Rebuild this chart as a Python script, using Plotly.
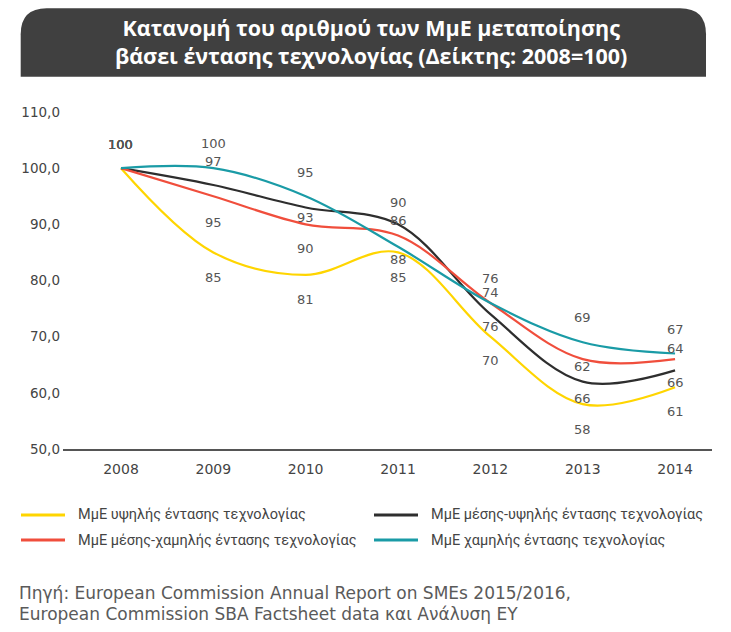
import plotly.graph_objects as go

# ---------------- data ----------------
years = [2008, 2009, 2010, 2011, 2012, 2013, 2014]
series_names = [
    "ΜμΕ υψηλής έντασης τεχνολογίας",
    "ΜμΕ μέσης-υψηλής έντασης τεχνολογίας",
    "ΜμΕ μέσης-χαμηλής έντασης τεχνολογίας",
    "ΜμΕ χαμηλής έντασης τεχνολογίας",
]
high_tech = [100, 85, 81, 85, 70, 58, 61]
medium_high_tech = [100, 97, 93, 90, 74, 62, 64]
medium_low_tech = [100, 95, 90, 88, 76, 66, 66]
low_tech = [100, 100, 95, 86, 76, 69, 67]
y_ticks = [50, 60, 70, 80, 90, 100, 110]

title_text = "Κατανομή του αριθμού των ΜμΕ μεταποίησης<br>βάσει έντασης τεχνολογίας (Δείκτης: 2008=100)"
source_lines = [
    "Πηγή: European Commission Annual Report on SMEs 2015/2016,",
    "European Commission SBA Factsheet data και Ανάλυση ΕΥ",
]

# ---------------- styles ----------------
colors = ["#FFD500", "#2E2E2E", "#F04E3C", "#1A9BA6"]
# vertical pixel offsets of the value labels (style only)
label_shifts = [
    [24, -25, -25, -25, -24, -25, -24],
    [24, 24, -10, 22, 22, 15, 22],
    [24, -26, -24, -24, -24, -39, -23],
    [24, 25, 24, 26, 24, 25, 24],
]

OFF = 8                      # page body margin
W, H = 731 - OFF, 632 - OFF
L, R, T, B = 63 - OFF, 712 - OFF, 112 - OFF, 449 - OFF   # plot area (figure px)
PW, PH = R - L, B - T


def px(x):
    """page pixel x -> paper"""
    return (x - OFF - L) / PW


def py(y):
    """page pixel y -> paper"""
    return (B - (y - OFF)) / PH


all_series = [high_tech, medium_high_tech, medium_low_tech, low_tech]

fig = go.Figure()
for name, vals, col in zip(series_names, all_series, colors):
    fig.add_trace(go.Scatter(
        x=years, y=vals, name=name, mode="lines",
        line=dict(color=col, width=2.2, shape="spline", smoothing=1.0),
        showlegend=False, hoverinfo="skip",
    ))

annotations = []
for vals, shifts in zip(all_series, label_shifts):
    for xv, yv, s in zip(years, vals, shifts):
        annotations.append(dict(
            x=xv, y=yv, xref="x", yref="y", text=str(yv), showarrow=False,
            yshift=s, xanchor="center", yanchor="middle",
            font=dict(family="DejaVu Sans", size=13, color="#555555"),
        ))

# title box
x0, x1, y0, y1, r = 20.7, 706, 8.3, 76.7, 26
path = (f"M {px(x0)} {py(y1)} L {px(x0)} {py(y0 + r)} "
        f"Q {px(x0)} {py(y0)} {px(x0 + r)} {py(y0)} "
        f"L {px(x1 - r)} {py(y0)} Q {px(x1)} {py(y0)} {px(x1)} {py(y0 + r)} "
        f"L {px(x1)} {py(y1)} Z")
shapes = [dict(type="path", xref="paper", yref="paper", path=path,
               fillcolor="#404040", line=dict(width=0), layer="below")]

annotations.append(dict(
    x=px(371), y=py(42), xref="paper", yref="paper", text=title_text,
    showarrow=False, xanchor="center", yanchor="middle",
    font=dict(family="Open Sans", size=21.5, color="white", weight="bold"),
))

# manual legend (2 columns)
leg_pos = [(21, 515), (374, 515), (21, 540), (374, 540)]
for name, col, (lx, ly) in zip(series_names, colors, leg_pos):
    shapes.append(dict(type="line", xref="paper", yref="paper",
                       x0=px(lx), x1=px(lx + 44), y0=py(ly), y1=py(ly),
                       line=dict(color=col, width=3)))
    annotations.append(dict(
        x=px(lx + 55), y=py(ly), xref="paper", yref="paper", text=name,
        showarrow=False, xanchor="left", yanchor="middle",
        font=dict(family="Roboto", size=14.5, color="#444444"),
    ))

for i, line in enumerate(source_lines):
    annotations.append(dict(
        x=px(17), y=py(593 + 21 * i), xref="paper", yref="paper", text=line,
        showarrow=False, xanchor="left", yanchor="middle",
        font=dict(family="DejaVu Sans", size=17, color="#5a5a5a"),
    ))

fig.update_layout(
    width=W, height=H, autosize=False,
    margin=dict(l=L, r=W - R, t=T, b=H - B, pad=0),
    paper_bgcolor="white", plot_bgcolor="white",
    separators=", ",
    showlegend=False,
    shapes=shapes, annotations=annotations,
    xaxis=dict(
        range=[2007.372, 2014.40], tickvals=years, ticktext=[str(y) for y in years],
        showgrid=False, zeroline=False, showline=True, linecolor="#555555",
        linewidth=1.5, ticks="", ticklabelstandoff=6,
        tickfont=dict(family="DejaVu Sans", size=14, color="#444444"),
    ),
    yaxis=dict(
        range=[50, 110], tickvals=y_ticks, tickformat=".1f",
        showgrid=False, zeroline=False, showline=False, ticks="",
        ticklabelstandoff=2,
        tickfont=dict(family="DejaVu Sans", size=13.5, color="#444444"),
    ),
)

fig.write_html("out.html")
